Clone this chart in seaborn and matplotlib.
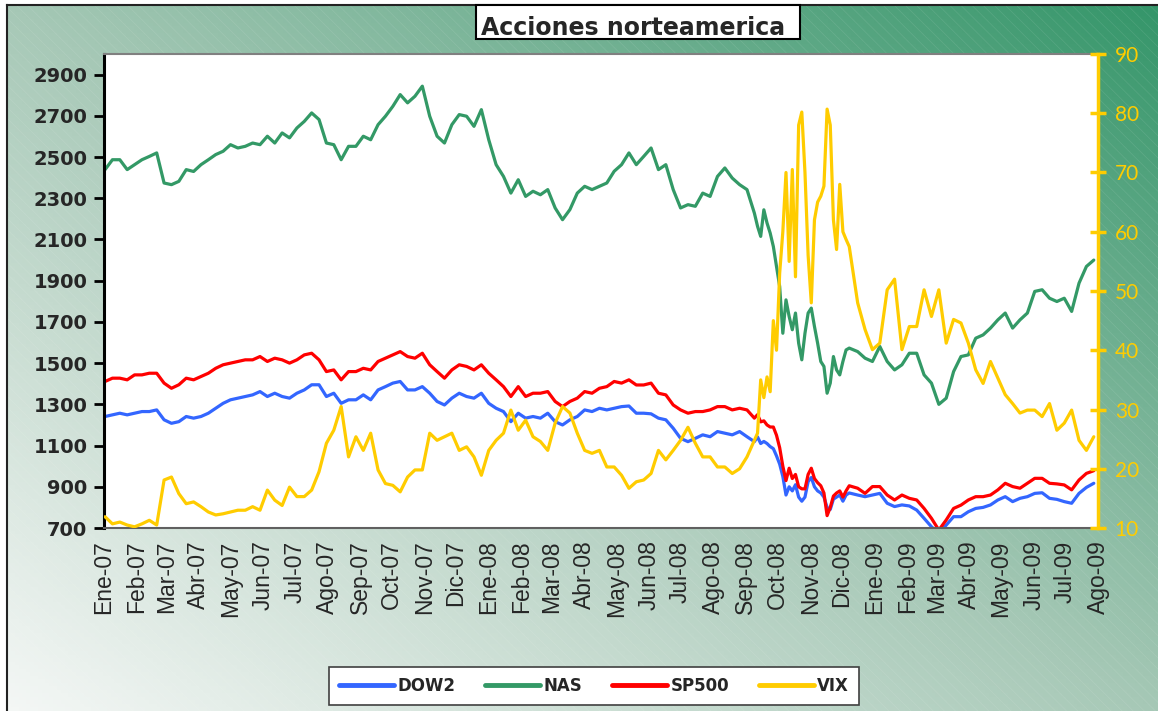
import numpy as np
import pandas as pd
import matplotlib
matplotlib.use('Agg')
import matplotlib.pyplot as plt
from matplotlib.patches import Rectangle
from matplotlib.lines import Line2D
from matplotlib.colors import LinearSegmentedColormap
import seaborn as sns

sns.set_style('white')
plt.rcParams['font.family'] = ['DejaVu Sans']
plt.rcParams['hatch.linewidth'] = 0.5

# weekly closes Jan-07 .. Sep-08, every 3 days through the crash, weekly again to Jul-09
dates_a = pd.date_range('2007-01-02', '2008-09-09', freq='7D')
dates_b = pd.date_range('2008-09-12', '2008-12-08', freq='3D')
dates_c = pd.date_range('2008-12-16', '2009-07-28', freq='7D')

dow2_a = [1241, 1249, 1257, 1249, 1257, 1265, 1265, 1273, 1225, 1208,
          1216, 1241, 1233, 1241, 1257, 1281, 1305, 1322, 1330, 1338,
          1346, 1362, 1338, 1354, 1338, 1330, 1354, 1370, 1395, 1395,
          1338, 1354, 1305, 1322, 1322, 1346, 1322, 1370, 1386, 1403,
          1411, 1370, 1370, 1386, 1354, 1314, 1297, 1330, 1354, 1338,
          1330, 1354, 1305, 1281, 1265, 1216, 1257, 1233, 1241, 1233,
          1257, 1216, 1200, 1225, 1241, 1273, 1265, 1281, 1273, 1281,
          1289, 1292, 1257, 1257, 1254, 1233, 1225, 1184, 1135, 1119,
          1135, 1152, 1143, 1168, 1160, 1152, 1168, 1143, 1119]
dow2_b = [1142, 1110, 1120, 1110, 1095, 1085, 1050, 1010, 950, 860,
          900, 880, 910, 850, 830, 850, 925, 945, 900, 880,
          870, 850, 800, 790, 840, 850, 860, 830, 860, 870]
dow2_c = [860, 852, 860, 868, 820, 804, 812, 807, 787, 747,
          706, 674, 714, 755, 755, 779, 795, 800, 812, 836,
          852, 828, 844, 852, 868, 871, 844, 839, 828, 820,
          868, 897, 917]

nas_a = [2439, 2487, 2487, 2439, 2463, 2487, 2503, 2520, 2374, 2366,
         2382, 2439, 2430, 2463, 2487, 2512, 2528, 2560, 2544, 2552,
         2568, 2560, 2601, 2568, 2617, 2593, 2641, 2673, 2714, 2682,
         2568, 2560, 2487, 2552, 2552, 2601, 2584, 2657, 2698, 2746,
         2803, 2763, 2795, 2844, 2698, 2601, 2568, 2657, 2706, 2698,
         2649, 2730, 2584, 2463, 2406, 2325, 2390, 2309, 2334, 2317,
         2342, 2253, 2196, 2245, 2325, 2358, 2342, 2358, 2374, 2431,
         2463, 2520, 2463, 2503, 2544, 2439, 2463, 2342, 2253, 2269,
         2261, 2325, 2309, 2406, 2447, 2398, 2366, 2342, 2228]
nas_b = [2164, 2115, 2244, 2180, 2131, 2066, 1969, 1872, 1645, 1807,
         1726, 1662, 1743, 1597, 1516, 1645, 1743, 1767, 1678, 1597,
         1508, 1484, 1354, 1403, 1532, 1467, 1443, 1508, 1564, 1573]
nas_c = [1556, 1524, 1508, 1581, 1508, 1467, 1492, 1548, 1548, 1443,
         1403, 1300, 1330, 1459, 1532, 1540, 1621, 1637, 1670, 1710,
         1743, 1670, 1710, 1743, 1848, 1856, 1815, 1799, 1815, 1751,
         1888, 1969, 2000]

sp500_a = [1411, 1427, 1427, 1419, 1443, 1443, 1451, 1451, 1403, 1378,
           1395, 1427, 1419, 1435, 1451, 1475, 1492, 1500, 1508, 1516,
           1516, 1532, 1508, 1524, 1516, 1500, 1516, 1540, 1548, 1516,
           1459, 1467, 1419, 1459, 1459, 1475, 1467, 1508, 1524, 1540,
           1556, 1532, 1524, 1548, 1492, 1459, 1427, 1467, 1492, 1484,
           1467, 1492, 1451, 1419, 1386, 1338, 1386, 1338, 1354, 1354,
           1362, 1314, 1289, 1314, 1330, 1362, 1354, 1378, 1386, 1411,
           1403, 1419, 1394, 1394, 1403, 1354, 1346, 1297, 1273, 1257,
           1265, 1265, 1273, 1289, 1289, 1273, 1281, 1273, 1233]
sp500_b = [1250, 1215, 1220, 1200, 1190, 1190, 1150, 1090, 1000, 930,
           990, 940, 960, 900, 890, 890, 960, 990, 940, 920,
           905, 870, 760, 800, 855, 870, 880, 850, 880, 905]
sp500_c = [893, 868, 901, 901, 860, 836, 860, 844, 836, 795,
           747, 690, 739, 795, 811, 836, 852, 852, 860, 885,
           917, 901, 893, 917, 941, 941, 917, 914, 909, 885,
           933, 965, 978]

vix_a = [11.9, 10.7, 11.0, 10.5, 10.2, 10.7, 11.3, 10.5, 18.1, 18.6,
         15.8, 14.1, 14.4, 13.6, 12.7, 12.2, 12.4, 12.7, 13.0, 13.0,
         13.6, 13.0, 16.4, 14.7, 13.8, 16.9, 15.3, 15.3, 16.4, 19.5,
         24.3, 26.5, 30.5, 22.0, 25.4, 23.1, 26.0, 19.8, 17.5, 17.2,
         16.1, 18.6, 19.8, 19.8, 26.0, 24.8, 25.4, 26.0, 23.1, 23.7,
         22.0, 18.9, 23.1, 24.8, 26.0, 29.9, 26.5, 28.2, 25.4, 24.6,
         23.1, 27.7, 30.5, 29.4, 26.0, 23.1, 22.6, 23.1, 20.3, 20.3,
         18.9, 16.7, 17.8, 18.1, 19.2, 23.1, 21.5, 23.1, 24.8, 27.0,
         24.3, 22.0, 22.0, 20.3, 20.3, 19.2, 20.0, 22.0, 24.8]
vix_b = [26.0, 35.0, 32.0, 35.5, 33.0, 45.0, 40.0, 53.0, 60.0, 70.0,
         55.0, 70.5, 52.4, 78.0, 80.2, 70.0, 56.0, 48.0, 62.0, 65.0,
         66.0, 67.7, 80.7, 78.0, 62.0, 57.0, 68.0, 60.0, 58.7, 57.5]
vix_c = [48.0, 43.5, 40.1, 41.2, 50.2, 52.0, 40.1, 44.0, 44.0, 50.2,
         45.7, 50.2, 41.2, 45.2, 44.6, 41.2, 36.7, 34.4, 38.1, 35.3,
         32.5, 31.0, 29.4, 29.9, 29.9, 28.8, 31.0, 26.5, 27.7, 29.9,
         24.8, 23.1, 25.4]

meses = ['Ene', 'Feb', 'Mar', 'Abr', 'May', 'Jun', 'Jul', 'Ago', 'Sep', 'Oct', 'Nov', 'Dic']
left_ticks = [700, 900, 1100, 1300, 1500, 1700, 1900, 2100, 2300, 2500, 2700, 2900]
right_ticks = [10, 20, 30, 40, 50, 60, 70, 80, 90]

colores = {'DOW2': '#3366FF', 'NAS': '#339966', 'SP500': '#FF0000', 'VIX': '#FFCC00'}

fechas = dates_a.append(dates_b).append(dates_c)
df = pd.DataFrame({
    'fecha': fechas,
    'DOW2': dow2_a + dow2_b + dow2_c,
    'NAS': nas_a + nas_b + nas_c,
    'SP500': sp500_a + sp500_b + sp500_c,
    'VIX': vix_a + vix_b + vix_c,
})
largo = df.melt(id_vars='fecha', value_vars=['DOW2', 'NAS', 'SP500'],
                var_name='serie', value_name='valor')

W, H = 1158, 711
fig = plt.figure(figsize=(W / 100, H / 100), dpi=100)

# background: diagonal green gradient with faint hatching
bg = fig.add_axes([7 / W, 0, 1 - 7 / W, 1 - 5 / H], zorder=-10)
gx, gy = np.meshgrid(np.linspace(0, 1, 300), np.linspace(1, 0, 200))
grad = (gx + gy) / 2
cmap = LinearSegmentedColormap.from_list('fondo', ['#f4f7f5', '#a6c8b6', '#35966a'])
bg.imshow(grad, cmap=cmap, aspect='auto', extent=(0, 1, 0, 1), vmin=0, vmax=1)
bg.add_patch(Rectangle((0, 0), 1, 1, transform=bg.transAxes, fill=False,
                       hatch='\\\\\\', edgecolor=(1, 1, 1, 0.10), lw=0))
bg.set_xlim(0, 1)
bg.set_ylim(0, 1)
bg.set_xticks([])
bg.set_yticks([])
for s in ['right', 'bottom']:
    bg.spines[s].set_visible(False)
for s in ['top', 'left']:
    bg.spines[s].set_color('#222222')
    bg.spines[s].set_linewidth(1.5)

ax = fig.add_axes([104 / W, 1 - 528 / H, (1098 - 104) / W, (528 - 54) / H])
ax.set_facecolor('white')
sns.lineplot(data=largo, x='fecha', y='valor', hue='serie', palette=colores,
             hue_order=['DOW2', 'NAS', 'SP500'], estimator=None,
             linewidth=2.3, legend=False, ax=ax)

ax2 = ax.twinx()
sns.lineplot(data=df, x='fecha', y='VIX', color=colores['VIX'], estimator=None,
             linewidth=2.3, ax=ax2)

x0, x1 = pd.Timestamp('2007-01-01'), pd.Timestamp('2009-08-01')
ax.set_xlim(x0, x1)
ax.set_ylim(700, 3000)
ax2.set_ylim(10, 90)

meses_ticks = pd.date_range(x0, x1, freq='MS')
ax.set_xticks(meses_ticks)
ax.set_xticklabels([f"{meses[d.month - 1]}-{d.strftime('%y')}" for d in meses_ticks],
                   rotation=90, fontsize=16.5, family='Liberation Sans')
ax.tick_params(axis='x', direction='out', length=5, width=1.2, color='#606060', pad=4)

ax.set_yticks(left_ticks)
ax.set_yticklabels([str(v) for v in left_ticks], fontsize=14, fontweight='bold')
ax.tick_params(axis='y', direction='out', length=7, width=2, color='black', pad=5)

ax2.set_yticks(right_ticks)
ax2.set_yticklabels([str(v) for v in right_ticks], fontsize=15, family='Lato',
                    color=colores['VIX'])
ax2.tick_params(axis='y', direction='inout', length=12, width=2.5,
                color=colores['VIX'], pad=6)

ax.set_xlabel('')
ax.set_ylabel('')
ax2.set_xlabel('')
ax2.set_ylabel('')

ax.spines['left'].set_color('black')
ax.spines['left'].set_linewidth(2.2)
ax.spines['bottom'].set_color('#606060')
ax.spines['bottom'].set_linewidth(1.5)
ax.spines['top'].set_color('#808080')
ax.spines['top'].set_linewidth(1.5)
ax.spines['right'].set_visible(False)
for s in ['left', 'top', 'bottom']:
    ax2.spines[s].set_visible(False)
ax2.spines['right'].set_color(colores['VIX'])
ax2.spines['right'].set_linewidth(2.5)

# title box
fig.add_artist(Rectangle((476 / W, 1 - 39 / H), 324 / W, 34 / H, transform=fig.transFigure,
                         facecolor='white', edgecolor='black', lw=1.5, zorder=5))
fig.text(633 / W, 1 - 35 / H, 'Acciones norteamerica', ha='center', va='baseline',
         fontsize=17, fontweight='bold', zorder=6)

handles = [Line2D([], [], color=colores[k], lw=3.5) for k in ['DOW2', 'NAS', 'SP500', 'VIX']]
leg = fig.legend(handles, ['DOW2', 'NAS', 'SP500', 'VIX'], loc='center',
                 bbox_to_anchor=(594 / W, 1 - 686 / H), ncol=4, frameon=True,
                 fancybox=False, edgecolor='#404040', framealpha=1,
                 prop={'weight': 'bold', 'size': 12}, handlelength=3.3,
                 handletextpad=0.2, columnspacing=1.8, borderpad=0.6)
leg.get_frame().set_linewidth(1.2)

fig.savefig('out.png', dpi=100)
